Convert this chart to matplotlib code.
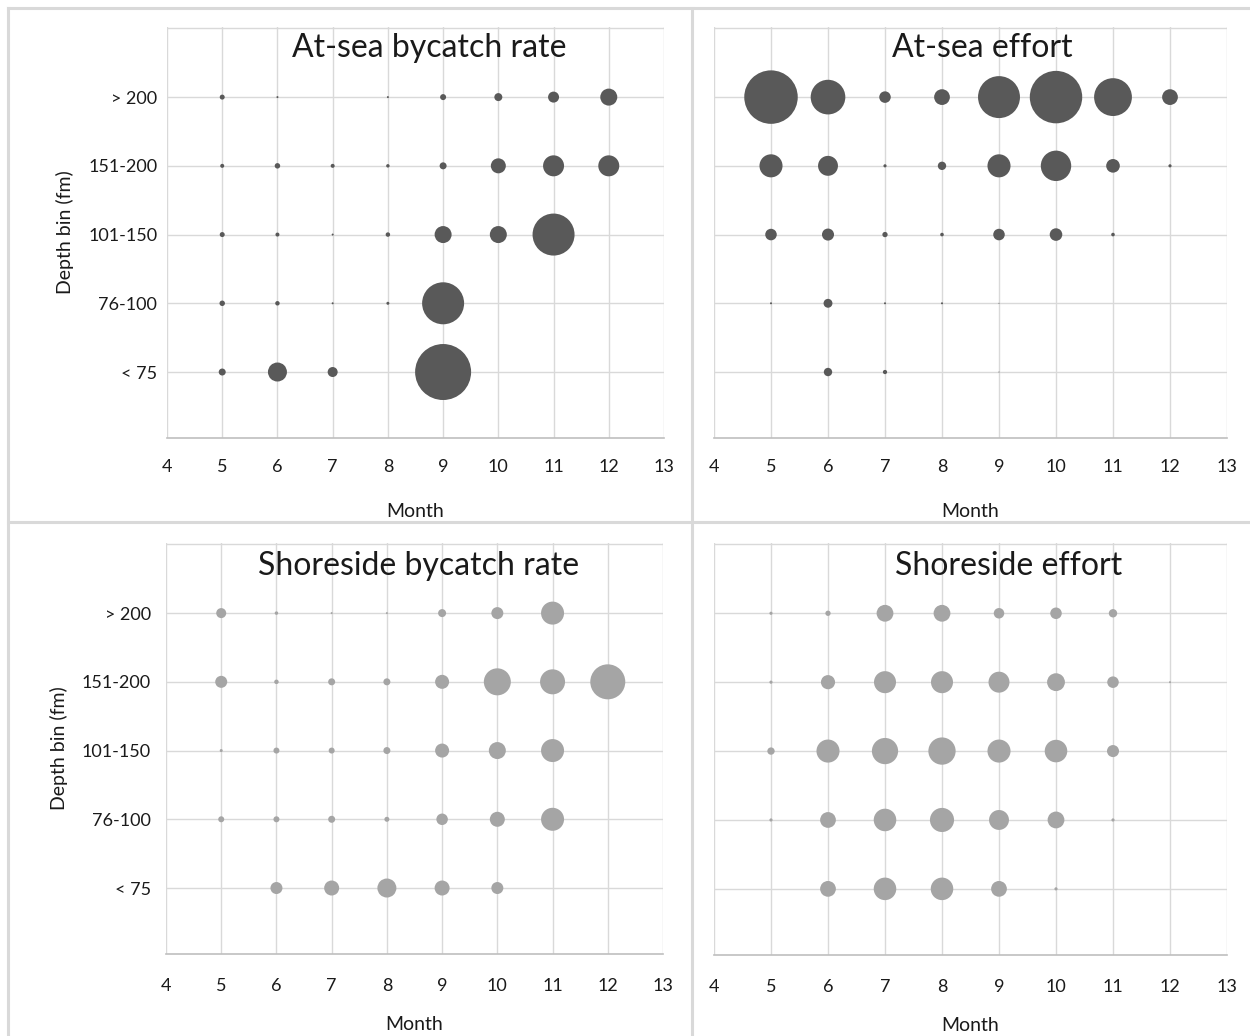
import numpy as np
import matplotlib
matplotlib.use("Agg")
import matplotlib.pyplot as plt
from matplotlib.lines import Line2D

plt.rcParams['font.family'] = ['Lato', 'DejaVu Sans']

months = [5, 6, 7, 8, 9, 10, 11, 12]
depth_labels = ["< 75", "76-100", "101-150", "151-200", "> 200"]

# relative bubble values (area-proportional), rows: < 75, 76-100, 101-150, 151-200, > 200
atsea_rate = [
    [4.9, 36.1, 10.0, 0, 313.6, 0, 0, 0],
    [3.0, 2.0, 0.4, 0.9, 176.4, 0, 0, 0],
    [2.5, 1.6, 0.4, 2.0, 28.9, 28.9, 176.4, 0],
    [1.6, 3.0, 1.6, 1.2, 4.9, 22.5, 44.1, 44.1],
    [2.5, 0.4, 0, 0.4, 3.6, 6.4, 12.1, 28.9],
]
atsea_effort = [
    [0, 7.0, 1.8, 0, 0.1, 0, 0, 0],
    [0.4, 7.9, 0.4, 0.4, 0.1, 0, 0, 0],
    [13.3, 14.5, 2.8, 1.3, 13.3, 15.8, 1.3, 0],
    [53.2, 39.7, 1.0, 7.0, 53.2, 92.5, 18.6, 1.0],
    [286.0, 120.0, 13.3, 24.8, 176.0, 275.0, 143.0, 24.8],
]
shore_rate = [
    [0, 14.4, 22.5, 36.1, 22.5, 14.4, 0, 0],
    [3.6, 3.6, 4.9, 2.5, 13.2, 22.5, 52.9, 0],
    [0.9, 3.6, 3.6, 4.9, 19.6, 28.9, 52.9, 0],
    [14.4, 2.0, 4.9, 4.9, 19.6, 72.9, 62.5, 122.5],
    [10.0, 1.2, 0.4, 0.4, 6.4, 14.4, 52.9, 0],
]
shore_effort = [
    [0, 24.8, 50.8, 50.8, 24.8, 1.0, 0, 0],
    [1.0, 24.8, 50.8, 58.2, 39.7, 28.2, 1.0, 0],
    [5.4, 53.2, 68.8, 74.4, 53.2, 50.8, 14.5, 0],
    [1.0, 20.0, 48.5, 48.5, 44.0, 31.8, 13.3, 0.4],
    [1.0, 2.8, 28.2, 28.2, 11.0, 13.3, 7.0, 0],
]

titles = ["At-sea bycatch rate", "At-sea effort", "Shoreside bycatch rate", "Shoreside effort"]
datasets = [atsea_rate, atsea_effort, shore_rate, shore_effort]
colors = ["#595959", "#595959", "#A5A5A5", "#A5A5A5"]

W, H = 1250, 1036
fig = plt.figure(figsize=(W / 100, H / 100), dpi=100)

# panel frames
frame_c = "#d9d9d9"
for (x0, y0, x1, y1) in [(8, 8, 1250, 8), (8, 8, 8, 1036), (692, 8, 692, 1036), (8, 522, 1250, 522)]:
    fig.add_artist(Line2D([x0 / W, x1 / W], [1 - y0 / H, 1 - y1 / H], color=frame_c, lw=2.2))

# axes boxes in pixels: left, top, right, bottom
boxes = [(167, 27, 664, 438), (714, 27, 1227, 438), (166, 543, 663, 954), (714, 543, 1227, 955)]
title_x = [0.527, 0.524, 0.509, 0.575]
title_y = [0.948, 0.948, 0.944, 0.944]

scale = 5.184  # points^2 per unit

for i, (data, ttl, col, box) in enumerate(zip(datasets, titles, colors, boxes)):
    l, t, r, b = box
    ax = fig.add_axes([l / W, 1 - b / H, (r - l) / W, (b - t) / H])
    ax.set_xlim(4, 13)
    ax.set_ylim(0.04, 6.02)
    arr = np.array(data, dtype=float)
    xs, ys, ss = [], [], []
    for ri in range(arr.shape[0]):
        for ci, m in enumerate(months):
            v = arr[ri, ci]
            if v > 0:
                xs.append(m)
                ys.append(ri + 1)
                ss.append(v * scale)
    ax.scatter(xs, ys, s=ss, color=col, edgecolors='none', zorder=3)
    ax.set_xticks(range(4, 14))
    ax.set_yticks(range(1, 7))
    if i % 2 == 0:
        ax.set_yticklabels(depth_labels + [""])
        ax.set_ylabel("Depth bin (fm)", fontsize=14, color="#1a1a1a", labelpad=10)
    else:
        ax.set_yticklabels([])
    ax.grid(True, color="#d9d9d9", lw=1.0, zorder=0)
    ax.set_axisbelow(True)
    for sp in ["top", "right", "left"]:
        ax.spines[sp].set_visible(False)
    ax.spines["bottom"].set_color("#bfbfbf")
    ax.spines["bottom"].set_linewidth(1.2)
    ax.tick_params(axis='both', length=0, labelsize=13, colors="#1a1a1a")
    ax.tick_params(axis='x', pad=15 if i < 2 else 17)
    ax.tick_params(axis='y', pad=7 if i == 0 else 11)
    ax.set_xlabel("Month", fontsize=14, color="#1a1a1a", labelpad=20 if i < 2 else 16)
    ax.text(title_x[i], title_y[i], ttl, transform=ax.transAxes, ha='center', va='center',
            fontsize=23, color="#1a1a1a", zorder=5)

fig.savefig("out.png", dpi=100, facecolor="white")
